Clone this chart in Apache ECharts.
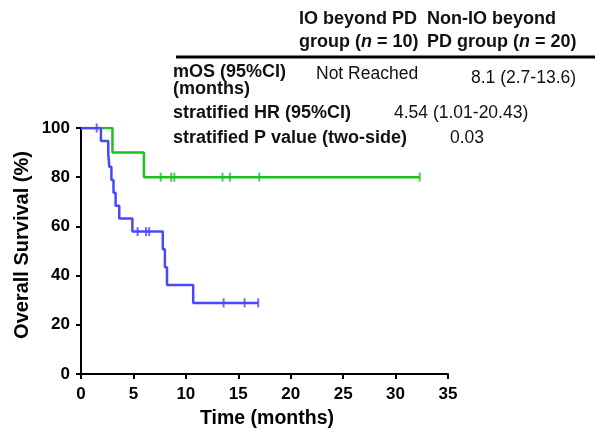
<!DOCTYPE html>
<html>
<head>
<meta charset="utf-8">
<script src="https://cdn.jsdelivr.net/npm/echarts@6/dist/echarts.min.js"></script>
<style>html,body{margin:0;padding:0;background:#fff;}#c{width:595px;height:430px;}</style>
</head>
<body>
<div id="c"></div>
<script>
// Data
var xTicks = [0, 5, 10, 15, 20, 25, 30, 35];
var yTicks = [0, 20, 40, 60, 80, 100];
// IO beyond PD group (n = 10) - green
var ioEventTimes = [3.0, 6.0];
var ioSurvival = [90, 80];
var ioCensorTimes = [7.6, 8.6, 8.9, 13.5, 14.2, 17.0, 32.3];
var ioEnd = 32.3;
// Non-IO beyond PD group (n = 20) - blue
var nonEventTimes = [1.9, 2.6, 2.7, 2.9, 3.1, 3.3, 3.65, 4.9, 7.8, 8.0, 8.2, 10.7];
var nonSurvival = [94.7, 89.5, 84.2, 78.9, 73.7, 68.4, 63.2, 57.9, 50.7, 43.4, 36.2, 28.9];
var nonCensorTimes = [1.5, 5.4, 6.2, 6.5, 13.6, 15.6, 16.9];
var nonEnd = 16.9;

function kmPath(times, surv, end) {
  var pts = [[0, 100]];
  var prev = 100;
  for (var i = 0; i < times.length; i++) {
    pts.push([times[i], prev]);
    pts.push([times[i], surv[i]]);
    prev = surv[i];
  }
  pts.push([end, prev]);
  return pts;
}
function survAt(t, times, surv) {
  var s = 100;
  for (var i = 0; i < times.length; i++) { if (times[i] <= t) s = surv[i]; }
  return s;
}
function censorPts(ct, times, surv) {
  return ct.map(function (t) { return [t, survAt(t, times, surv)]; });
}

var GREEN = '#1ec21e', BLUE = '#4848f8';
var chart = echarts.init(document.getElementById('c'));
var F = 'Liberation Sans, Arial, sans-serif';
function txt(x, y, s, bold) {
  return { type: 'text', x: x, y: y, style: { text: s, fill: '#111', font: (bold ? 'bold 18px ' : '17.5px ') + F, verticalAlign: 'middle', align: 'left' } };
}
var richN = { i: { fontStyle: 'italic', fontWeight: 'bold', fontSize: 18, fontFamily: F, fill: '#111' } };

chart.setOption({
  animation: false,
  grid: { left: 81, right: 147, top: 128, bottom: 56 },
  xAxis: {
    type: 'value', min: 0, max: 35, interval: 5,
    axisLine: { lineStyle: { color: '#000', width: 2 } },
    axisTick: { show: true, length: 5, lineStyle: { color: '#000', width: 2 } },
    axisLabel: { color: '#000', fontWeight: 'bold', fontSize: 17, fontFamily: F, margin: 12,
      customValues: xTicks },
    splitLine: { show: false }
  },
  yAxis: {
    type: 'value', min: 0, max: 100, interval: 20,
    axisLine: { show: true, lineStyle: { color: '#000', width: 2 } },
    axisTick: { show: true, length: 5, lineStyle: { color: '#000', width: 2 } },
    axisLabel: { color: '#000', fontWeight: 'bold', fontSize: 17, fontFamily: F, margin: 11,
      customValues: yTicks },
    splitLine: { show: false }
  },
  series: [
    { type: 'line', data: kmPath(ioEventTimes, ioSurvival, ioEnd), showSymbol: false, symbol: 'none',
      lineStyle: { color: GREEN, width: 2.5 }, z: 3 },
    { type: 'line', data: kmPath(nonEventTimes, nonSurvival, nonEnd), showSymbol: false, symbol: 'none',
      lineStyle: { color: BLUE, width: 2.5 }, z: 4 },
    { type: 'scatter', data: censorPts(ioCensorTimes, ioEventTimes, ioSurvival), symbol: 'rect', symbolSize: [2, 9],
      itemStyle: { color: GREEN }, z: 5 },
    { type: 'scatter', data: censorPts(nonCensorTimes, nonEventTimes, nonSurvival), symbol: 'rect', symbolSize: [2, 9],
      itemStyle: { color: BLUE }, z: 6 }
  ],
  graphic: [
    txt(299, 19, 'IO beyond PD', true),
    { type: 'text', x: 299, y: 42, style: { text: 'group ({i|n} = 10)', fill: '#111', font: 'bold 18px ' + F, verticalAlign: 'middle', rich: richN } },
    txt(427, 19, 'Non-IO beyond', true),
    { type: 'text', x: 427, y: 42, style: { text: 'PD group ({i|n} = 20)', fill: '#111', font: 'bold 18px ' + F, verticalAlign: 'middle', rich: richN } },
    { type: 'line', shape: { x1: 176, y1: 57, x2: 595, y2: 57 }, style: { stroke: '#000', lineWidth: 3 } },
    txt(173, 72, 'mOS (95%CI)', true),
    txt(173, 89, '(months)', true),
    txt(316, 74, 'Not Reached', false),
    txt(471, 78, '8.1 (2.7-13.6)', false),
    txt(173, 113, 'stratified HR (95%CI)', true),
    txt(394, 113, '4.54 (1.01-20.43)', false),
    txt(173, 138, 'stratified P value (two-side)', true),
    txt(450, 138, '0.03', false),
    { type: 'text', x: 267, y: 419, style: { text: 'Time (months)', fill: '#000', font: 'bold 19.5px ' + F, align: 'center', verticalAlign: 'middle' } },
    { type: 'text', x: 22, y: 245, rotation: Math.PI / 2, style: { text: 'Overall Survival (%)', fill: '#000', font: 'bold 20px ' + F, align: 'center', verticalAlign: 'middle' } }
  ]
});
</script>
</body>
</html>
